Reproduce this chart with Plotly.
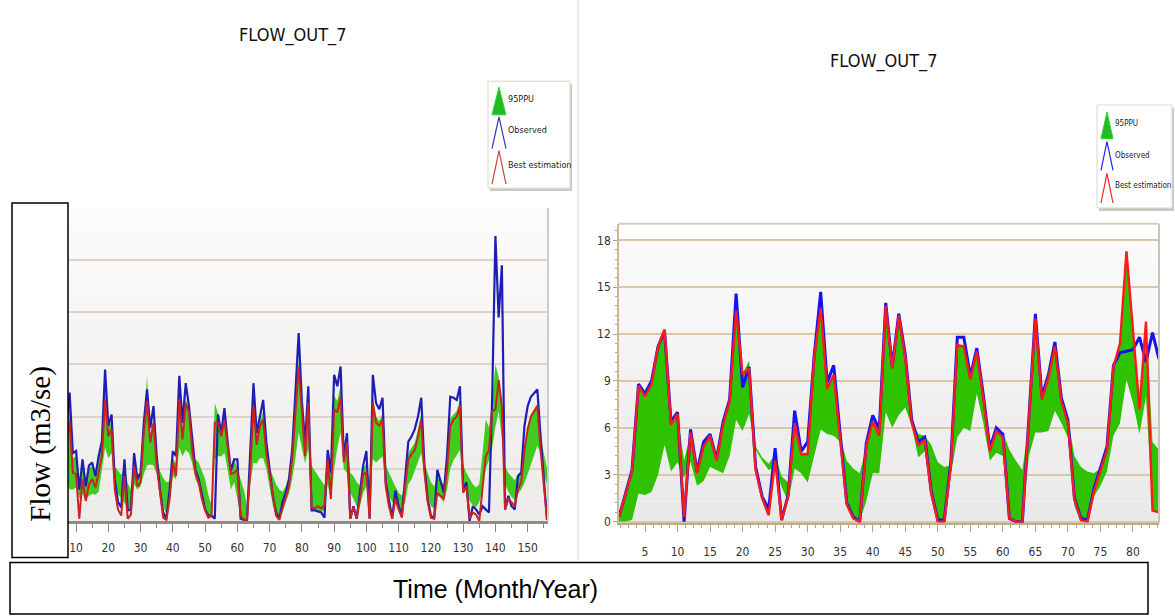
import plotly.graph_objects as go

W, H = 1175, 616

# ---------------- data: left panel (monthly index 1..156) ----------------
x_left = list(range(1, 157))
obs_left = [3.0, 5.5, 8.0, 10.5, 6.0, 4.0, 9.0,
    12.3, 6.5, 6.7, 3.0, 5.9, 3.3, 5.3, 5.6, 4.3, 6.2, 7.6, 14.5, 9.1, 10.2,
    4.0, 1.8, 1.3, 5.9, 1.0, 1.1, 6.5, 4.0, 4.6, 9.4, 12.6, 8.9, 11.0, 6.2,
    3.0, 0.8, 0.2, 3.0, 6.7, 6.2, 13.9, 9.4, 13.2, 11.0, 7.6, 4.9, 4.0, 2.4,
    1.1, 0.5, 0.5, 0.2, 10.2, 8.4, 10.8, 7.5, 4.8, 5.9, 5.9, 0.2, 0.1, 0.1,
    6.2, 13.2, 8.4, 10.0, 11.6, 7.5, 4.9, 2.4, 0.8, 0.2, 1.8, 2.7, 4.0, 6.8,
    12.3, 18.0, 11.5, 7.5, 12.9, 1.0, 1.0, 0.9, 0.8, 0.3, 6.8, 4.6, 14.0,
    12.9, 14.8, 6.2, 8.4, 0.2, 1.4, 0.2, 2.7, 5.3, 6.7, 0.2, 14.0, 11.3,
    10.7, 11.8, 3.7, 2.1, 0.3, 2.9, 1.4, 0.5, 4.0, 7.6, 8.1, 8.8, 10.0, 11.8,
    5.3, 2.1, 0.5, 0.2, 4.9, 3.7, 2.7, 6.2, 11.9, 11.8, 11.6, 12.9, 3.0, 3.7,
    0.0, 1.4, 1.1, 0.6, 1.4, 1.1, 0.8, 11.9, 27.3, 19.5, 24.5, 1.1, 2.4, 1.4,
    1.1, 4.3, 4.6, 9.1, 11.0, 11.9, 12.3, 12.6, 8.1, 3.7, 0.1]
best_left = [2.5, 4.5, 7.0, 9.0, 5.0, 3.5, 7.5,
    9.6, 4.6, 4.5, 0.2, 4.0, 1.9, 3.5, 4.0, 3.2, 4.6, 6.2, 11.6, 8.1, 8.8,
    3.0, 1.1, 0.5, 4.3, 0.2, 0.6, 5.3, 3.3, 3.7, 8.4, 11.5, 7.5, 9.4, 5.3,
    2.7, 0.3, 0.1, 2.1, 5.6, 4.3, 11.6, 7.8, 11.3, 10.4, 6.8, 4.6, 3.7, 2.1,
    1.0, 0.3, 0.5, 9.4, 9.4, 8.1, 9.7, 6.8, 4.5, 4.6, 4.9, 0.5, 0.1, 0.1,
    4.9, 11.0, 7.3, 9.1, 9.7, 6.5, 4.5, 2.1, 0.5, 0.1, 1.1, 2.2, 3.3, 5.9,
    10.4, 14.8, 10.5, 6.2, 11.3, 1.3, 1.2, 1.4, 1.2, 1.5, 5.9, 2.1, 10.7,
    10.4, 11.9, 5.6, 7.5, 0.2, 1.3, 0.2, 2.1, 4.5, 4.6, 0.2, 11.3, 9.4,
    9.1, 9.7, 3.3, 1.4, 0.2, 2.1, 1.1, 0.3, 3.3, 5.9, 6.4, 6.8, 8.1, 9.7,
    4.6, 1.8, 0.3, 0.2, 2.7, 2.4, 2.1, 4.9, 9.1, 9.7, 10.0, 11.0, 2.7, 3.3,
    0.2, 0.8, 0.6, 0.0, 3.3, 6.2, 6.8, 10.5, 10.7, 13.5, 11.0, 1.1, 2.1, 1.8,
    1.4, 3.0, 3.7, 6.8, 8.8, 10.0, 10.5, 11.0, 6.8, 3.3, 0.1]
ppu_low_left = [1.5, 2.5, 4.0, 5.0, 3.5, 2.5, 4.0,
    3.0, 3.0, 3.2, 2.2, 2.6, 2.0, 2.4, 2.6, 2.5, 2.8, 5.0, 7.0, 6.0, 6.5,
    3.0, 2.6, 2.1, 1.8, 1.3, 0.8, 3.5, 3.0, 3.3, 4.5, 5.3, 5.4, 5.3, 4.5,
    2.7, 1.5, 0.5, 1.9, 4.3, 4.0, 7.0, 6.2, 6.8, 6.5, 5.5, 4.0, 3.3, 2.0,
    0.9, 0.3, 0.3, 5.9, 6.2, 6.2, 6.5, 4.9, 3.0, 3.7, 2.0, 0.5, 0.1, 0.1,
    3.5, 5.6, 5.5, 6.0, 6.0, 5.0, 3.2, 1.5, 0.4, 0.1, 1.0, 1.8, 2.6, 4.0,
    6.0, 8.5, 7.0, 5.5, 7.0, 1.0, 1.0, 1.0, 0.9, 1.0, 3.5, 2.0, 5.0,
    7.0, 8.5, 5.0, 4.6, 2.7, 2.1, 1.4, 1.4, 2.7, 3.3, 2.1, 5.9, 5.6,
    5.9, 6.2, 3.3, 2.4, 1.8, 1.8, 1.3, 1.0, 1.8, 3.5, 4.0, 4.8, 5.7, 6.5,
    4.3, 2.4, 1.4, 1.2, 2.5, 2.2, 1.8, 3.0, 5.0, 5.8, 6.3, 6.8, 3.4, 2.8,
    1.9, 1.5, 1.3, 1.8, 3.0, 5.0, 5.8, 7.0, 9.0, 10.5, 8.0, 3.5, 2.8, 2.3,
    2.0, 2.6, 3.0, 3.6, 4.5, 5.5, 6.3, 7.2, 6.5, 4.5, 3.5]
ppu_up_left = [3.5, 5.5, 8.0, 9.5, 6.0, 4.5, 8.5,
    11.0, 6.0, 6.2, 3.2, 5.5, 3.4, 5.0, 5.3, 4.3, 5.8, 7.4, 12.5, 9.0, 9.5,
    5.2, 4.8, 4.4, 5.2, 3.6, 3.0, 6.0, 4.5, 4.6, 8.8, 13.9, 8.2, 9.8, 6.0,
    4.8, 4.1, 3.7, 3.8, 6.0, 5.5, 12.0, 8.2, 11.8, 10.6, 7.2, 5.9, 5.6, 4.8,
    4.0, 2.5, 1.5, 11.3, 10.3, 8.6, 10.4, 7.2, 5.2, 5.9, 5.0, 4.0, 3.0, 1.5,
    6.0, 12.5, 8.0, 9.5, 10.5, 7.3, 5.0, 4.3, 3.5, 3.0, 2.8, 3.3, 4.3, 6.5,
    11.0, 15.5, 11.0, 7.0, 11.8, 5.3, 4.8, 4.3, 3.9, 3.4, 6.5, 5.0, 12.0,
    11.5, 13.0, 6.5, 7.8, 4.6, 4.3, 3.7, 3.4, 5.0, 5.5, 3.7, 12.0, 10.0,
    9.6, 10.3, 5.3, 4.6, 4.0, 3.3, 2.7, 2.4, 3.5, 6.5, 7.0, 7.5, 8.8, 10.3,
    5.5, 4.6, 3.7, 3.3, 4.2, 3.8, 3.5, 5.7, 9.8, 10.2, 10.5, 11.6, 5.4, 4.6,
    4.0, 3.5, 3.2, 3.5, 6.5, 9.7, 9.0, 11.5, 15.0, 13.8, 11.5, 5.2, 4.6, 4.2,
    3.9, 4.5, 4.8, 7.0, 9.0, 10.2, 10.7, 11.2, 8.0, 6.5, 5.0]
ticks_left = [10, 20, 30, 40, 50, 60, 70, 80, 90, 100, 110, 120, 130, 140, 150]

# ---------------- data: right panel (index 1..84) ----------------
x_right = list(range(1, 85))
obs_right = [0.3, 1.8, 3.3, 8.8, 8.2, 9.0, 11.2, 12.2, 6.4, 7.0, 0.0, 5.9,
    3.2, 5.1, 5.6, 4.0, 6.4, 7.8, 14.6, 8.6, 9.9, 3.5, 1.6, 0.8, 4.7, 0.1,
    1.7, 7.1, 4.5, 5.1, 10.6, 14.7, 8.9, 10.0, 5.6, 1.2, 0.3, 0.0, 5.0, 6.8,
    5.9, 14.0, 9.9, 13.3, 10.7, 6.5, 5.1, 5.4, 1.9, 0.1, 0.1, 3.8, 11.8,
    11.8, 9.3, 11.1, 8.1, 4.7, 6.0, 5.6, 0.2, 0.0, 0.0, 6.4, 13.3, 8.0, 9.4,
    11.5, 7.9, 6.5, 1.5, 0.2, 0.1, 2.1, 3.4, 4.8, 10.0, 10.8, 10.9, 11.0,
    11.8, 10.2, 12.1, 10.4]
best_right = [0.3, 1.8, 3.2, 8.7, 8.0, 8.8, 11.2, 12.3, 6.2, 6.9, 0.3, 5.7,
    3.1, 4.8, 5.5, 3.9, 6.2, 7.7, 13.5, 9.4, 9.8, 3.3, 1.5, 0.4, 3.9, 0.1,
    1.6, 6.3, 4.3, 4.3, 10.5, 13.7, 8.5, 9.4, 5.4, 1.1, 0.2, 0.0, 4.8, 6.4,
    5.5, 13.8, 9.8, 13.2, 10.5, 6.3, 4.9, 5.2, 1.8, 0.0, 0.0, 3.6, 11.3,
    11.2, 9.1, 10.9, 7.9, 4.5, 5.8, 5.4, 0.2, 0.0, 0.0, 6.2, 13.0, 7.8, 9.2,
    11.2, 7.7, 6.3, 1.4, 0.1, 0.0, 1.9, 3.2, 4.6, 9.9, 11.4, 17.3, 12.0,
    7.2, 12.8, 0.7, 0.6]
ppu_low_right = [0.0, 0.0, 0.1, 1.8, 1.7, 1.9, 3.0, 4.9, 3.2, 3.8, 2.8, 3.8,
    2.3, 2.6, 3.5, 3.3, 3.1, 4.2, 6.5, 5.8, 6.9, 4.6, 3.9, 3.3, 3.5, 2.2,
    1.3, 3.4, 3.1, 2.5, 4.2, 5.9, 5.6, 5.5, 5.1, 1.0, 0.2, 0.0, 1.3, 3.1,
    3.1, 7.0, 6.0, 6.8, 7.3, 6.1, 4.1, 4.5, 1.8, 0.0, 0.0, 3.0, 5.4, 6.0,
    5.8, 8.2, 6.3, 3.9, 4.4, 4.2, 0.2, 0.0, 0.0, 4.2, 5.7, 5.7, 5.8, 7.1,
    6.3, 5.4, 1.0, 0.0, 0.0, 1.6, 2.3, 3.2, 5.5, 6.3, 9.1, 7.6, 5.6, 8.0,
    0.7, 0.6]
ppu_up_right = [0.4, 1.9, 3.3, 8.7, 7.9, 8.8, 11.3, 12.2, 6.3, 6.9, 3.9, 5.7,
    3.3, 4.9, 5.5, 4.0, 6.2, 7.7, 13.5, 9.5, 10.3, 4.8, 4.1, 3.7, 4.3, 2.9,
    2.5, 6.3, 4.4, 4.4, 10.5, 13.7, 8.5, 9.4, 5.4, 3.9, 3.4, 3.1, 4.8, 6.4,
    5.6, 13.8, 9.8, 13.2, 10.5, 6.4, 5.6, 5.5, 4.9, 3.8, 3.5, 3.6, 11.3,
    11.2, 9.1, 11.0, 7.9, 4.8, 5.8, 5.7, 4.6, 3.9, 3.3, 6.2, 13.0, 7.9, 9.3,
    11.2, 7.7, 6.6, 4.2, 3.5, 3.2, 3.1, 3.4, 4.8, 10.0, 11.5, 17.3, 12.5,
    7.5, 12.8, 5.1, 4.6]
ticks_right = [5, 10, 15, 20, 25, 30, 35, 40, 45, 50, 55, 60, 65, 70, 75, 80]
yticks_right = [0, 3, 6, 9, 12, 15, 18]

title_text = "FLOW_OUT_7"
legend_names = ["95PPU", "Observed", "Best estimation"]
y_label = "Flow (m3/se)"
x_label = "Time (Month/Year)"

NARROW = "Liberation Sans Narrow, Arial Narrow, DejaVu Sans Condensed, sans-serif"


def px(x):
    return x / W


def py(y):
    return 1 - y / H


fig = go.Figure()

# ----- left panel traces -----
fig.add_trace(go.Scatter(x=x_left, y=ppu_low_left, mode="lines", line=dict(width=0),
                         xaxis="x", yaxis="y", showlegend=False, hoverinfo="skip"))
fig.add_trace(go.Scatter(x=x_left, y=ppu_up_left, mode="lines", line=dict(width=0),
                         fill="tonexty", fillcolor="#3fcc1e", xaxis="x", yaxis="y",
                         name=legend_names[0], showlegend=False))
fig.add_trace(go.Scatter(x=x_left, y=obs_left, mode="lines",
                         line=dict(color="#1e1eb4", width=2.2), xaxis="x", yaxis="y",
                         name=legend_names[1], showlegend=False))
fig.add_trace(go.Scatter(x=x_left, y=best_left, mode="lines",
                         line=dict(color="#cc2222", width=2), xaxis="x", yaxis="y",
                         name=legend_names[2], showlegend=False))

# ----- right panel traces -----
fig.add_trace(go.Scatter(x=x_right, y=ppu_low_right, mode="lines", line=dict(width=0),
                         xaxis="x2", yaxis="y2", showlegend=False, hoverinfo="skip"))
fig.add_trace(go.Scatter(x=x_right, y=ppu_up_right, mode="lines", line=dict(width=0),
                         fill="tonexty", fillcolor="#2ec200", xaxis="x2", yaxis="y2",
                         name=legend_names[0], showlegend=False))
fig.add_trace(go.Scatter(x=x_right, y=obs_right, mode="lines",
                         line=dict(color="#1414f0", width=3), xaxis="x2", yaxis="y2",
                         name=legend_names[1], showlegend=False))
fig.add_trace(go.Scatter(x=x_right, y=best_right, mode="lines",
                         line=dict(color="#ff1a1a", width=2.4), xaxis="x2", yaxis="y2",
                         name=legend_names[2], showlegend=False))

shapes = []
annotations = []


def text(x, y, s, size, family, color="#111", angle=0, xanchor="center"):
    annotations.append(dict(x=px(x), y=py(y), xref="paper", yref="paper", text=s,
                            showarrow=False, xanchor=xanchor, yanchor="middle",
                            textangle=angle,
                            font=dict(family=family, size=size, color=color)))


# background gradients
def gradient(xref, yref, top, bottom, n=14):
    for k in range(n):
        t = (k + 0.5) / n
        c = [int(round(top[j] + (bottom[j] - top[j]) * t)) for j in range(3)]
        shapes.append(dict(type="rect", xref=xref, yref=yref, x0=0, x1=1,
                           y0=1 - (k + 1) / n, y1=1 - k / n, layer="below",
                           line=dict(width=0), fillcolor="rgb(%d,%d,%d)" % tuple(c)))


gradient("x domain", "y domain", (253, 252, 250), (236, 235, 234))
gradient("x2 domain", "y2 domain", (252, 252, 252), (232, 232, 232))

# right panel white top strip
shapes.append(dict(type="rect", xref="x2 domain", yref="y2 domain", x0=0, x1=1,
                   y0=0.945, y1=1, layer="below", line=dict(width=0), fillcolor="white"))

# frames
shapes.append(dict(type="line", xref="paper", yref="paper", x0=px(548), x1=px(548),
                   y0=py(210), y1=py(526), line=dict(color="#cfcbc6", width=2)))
shapes.append(dict(type="line", xref="paper", yref="paper", x0=px(1159), x1=px(1159),
                   y0=py(226), y1=py(528), line=dict(color="#c9c3b8", width=2)))
shapes.append(dict(type="line", xref="paper", yref="paper", x0=px(619), x1=px(1159),
                   y0=py(226), y1=py(226), line=dict(color="#dcd0b4", width=2)))

# divider between the two charts
shapes.append(dict(type="line", xref="paper", yref="paper", x0=px(578), x1=px(578),
                   y0=py(0), y1=py(566), line=dict(color="#d6d6d6", width=1)))


# legends (drawn glyphs)
def legend(x0, y0, x1, y1, tx, fsize, rows):
    shapes.append(dict(type="rect", xref="paper", yref="paper", x0=px(x0 + 2), x1=px(x1 + 2),
                       y0=py(y1 + 3), y1=py(y0 + 3), line=dict(width=0), fillcolor="#c8c8c8"))
    shapes.append(dict(type="rect", xref="paper", yref="paper", x0=px(x0), x1=px(x1),
                       y0=py(y1), y1=py(y0), line=dict(color="#e2d8c4", width=1),
                       fillcolor="white"))
    for (kind, ax, atop, abot, half, ty, label) in rows:
        path = "M %f %f L %f %f L %f %f" % (px(ax - half), py(abot), px(ax), py(atop),
                                             px(ax + half), py(abot))
        if kind == "fill":
            shapes.append(dict(type="path", xref="paper", yref="paper", path=path + " Z",
                               fillcolor="#22bb22", line=dict(color="#33cc33", width=1)))
        else:
            shapes.append(dict(type="path", xref="paper", yref="paper", path=path,
                               line=dict(color=kind, width=1.2)))
        text(tx, ty, label, fsize, NARROW, "#222", xanchor="left")


legend(488, 82, 570, 190, 506, 9, [
    ("fill", 499, 88, 116, 7, 100, legend_names[0]),
    ("#3333bb", 499, 118, 150, 7, 131, legend_names[1]),
    ("#cc4444", 499, 152, 186, 7, 167, legend_names[2])])
legend(1097, 106, 1172, 210, 1113, 8, [
    ("fill", 1107, 113, 140, 6, 125, legend_names[0]),
    ("#2222ff", 1107, 143, 172, 6, 157, legend_names[1]),
    ("#ff2222", 1107, 175, 205, 6, 187, legend_names[2])])

# titles
text(292, 35, title_text, 18, NARROW)
text(883, 62, title_text, 18, NARROW)

# y-label box
shapes.append(dict(type="rect", xref="paper", yref="paper", x0=px(12), x1=px(68),
                   y0=py(563), y1=py(205), fillcolor="white",
                   line=dict(color="black", width=1.5), layer="above"))
text(41, 449, y_label, 29, "Liberation Serif, Times New Roman, serif", "black", angle=-90)

# x-label box
shapes.append(dict(type="rect", xref="paper", yref="paper", x0=px(10), x1=px(1148),
                   y0=py(620), y1=py(568), fillcolor="white",
                   line=dict(color="black", width=1.5), layer="above"))
text(495, 595, x_label, 25, "Liberation Sans, Arial, sans-serif", "black")

fig.update_layout(
    width=W, height=H,
    margin=dict(l=0, r=0, t=0, b=0),
    paper_bgcolor="white", plot_bgcolor="white",
    showlegend=False,
    shapes=shapes, annotations=annotations,
    xaxis=dict(domain=[px(68), px(548)], range=[7.5, 156.3], anchor="y",
               tickmode="array", tickvals=ticks_left, ticks="outside", ticklen=8,
               tickcolor="#8a8580", showgrid=False, zeroline=False,
               showline=True, linecolor="#8f8a85", linewidth=3,
               ticklabelstandoff=6,
               tickfont=dict(family=NARROW, size=12, color="#333"),
               minor=dict(dtick=5, tick0=0, ticks="outside", ticklen=4,
                          tickcolor="#8a8580", showgrid=False)),
    yaxis=dict(domain=[py(526), py(210)], range=[0, 30], anchor="x",
               tickmode="array", tickvals=[0, 5, 10, 15, 20, 25, 30],
               showticklabels=False, showgrid=True, gridcolor="#ddd3c8", gridwidth=1.5,
               zeroline=False, showline=False),
    xaxis2=dict(domain=[px(619), px(1159)], range=[1, 84], anchor="y2",
                tickmode="array", tickvals=ticks_right, ticks="outside", ticklen=7,
                tickcolor="#b8a47c", showgrid=False, zeroline=False,
                showline=True, linecolor="#bca985", linewidth=2,
                ticklabelstandoff=10,
                tickfont=dict(family=NARROW, size=12, color="#333"),
                minor=dict(dtick=1.25, tick0=0, ticks="outside", ticklen=3,
                           tickcolor="#b8a47c", showgrid=False)),
    yaxis2=dict(domain=[py(528), py(226)], range=[-0.08, 19.06], anchor="x2",
                tickmode="array", tickvals=yticks_right, ticks="outside", ticklen=4,
                tickcolor="#b8a47c", showgrid=True, gridcolor="#d8c8a4", gridwidth=2,
                zeroline=False, showline=True, linecolor="#c8b895", linewidth=1.5,
                tickfont=dict(family=NARROW, size=12, color="#333"),
                minor=dict(dtick=0.6, tick0=0, ticks="outside", ticklen=2,
                           tickcolor="#b8a47c", showgrid=False)),
)

fig.write_html("out.html")
